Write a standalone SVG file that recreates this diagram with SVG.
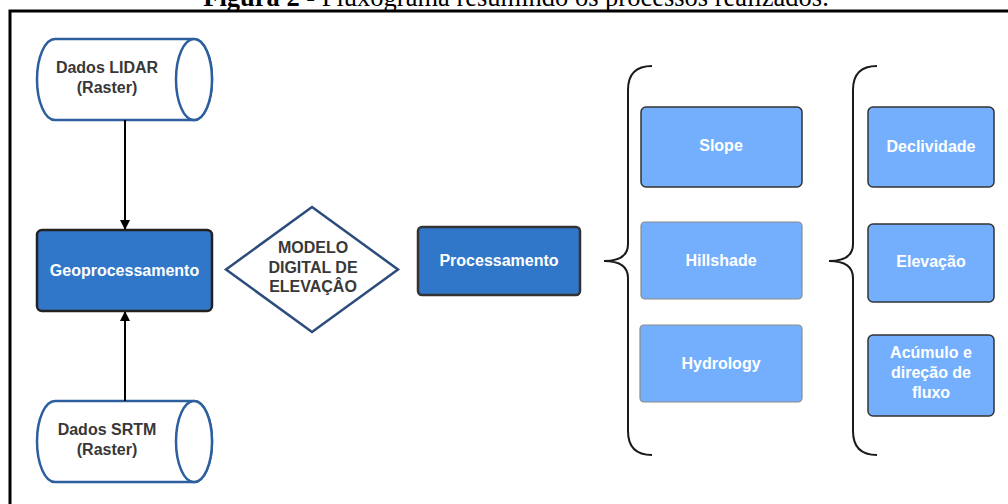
<svg xmlns="http://www.w3.org/2000/svg" width="1008" height="504" viewBox="0 0 1008 504">
<defs>
<style>
.t{font-family:"Liberation Sans",Arial,sans-serif;font-weight:bold;font-size:16px;text-anchor:middle}
.g{fill:#383838}
.w{fill:#ffffff}
.cyl{fill:#ffffff;stroke:#2d5f9e;stroke-width:2.5}
.dark{fill:#3177c9;stroke:#222222;stroke-width:2.5}
.light{fill:#74affe;stroke:#333333;stroke-width:1.5}
.lighter{fill:#74affe;stroke:#8a8a8a;stroke-width:1.2}
.brace{fill:none;stroke:#1a1a1a;stroke-width:2}
.conn{stroke:#000000;stroke-width:2;fill:none}
</style>
<marker id="ah" markerWidth="10" markerHeight="10" refX="9" refY="5" orient="auto" markerUnits="userSpaceOnUse">
<path d="M0,0 L10,5 L0,10 Z" fill="#000000"/>
</marker>
</defs>
<rect width="1008" height="504" fill="#ffffff"/>
<text x="516" y="6" font-family="'Liberation Serif','Times New Roman',serif" font-size="26.5" text-anchor="middle" fill="#000000"><tspan font-weight="bold">Figura 2</tspan> - Fluxograma resumindo os processos realizados.</text>
<path d="M10,520 L10,11 L1020,11" fill="none" stroke="#000000" stroke-width="3"/>

<g id="lidar">
<path class="cyl" d="M55,39 L194,39 A18,40.5 0 0 1 194,120 L55,120 A18,40.5 0 0 1 55,39 Z"/>
<ellipse class="cyl" cx="194" cy="79.5" rx="18" ry="40.5" fill="none"/>
<text class="t g" x="107" y="73">Dados LIDAR</text>
<text class="t g" x="107" y="93">(Raster)</text>
</g>

<g id="srtm">
<path class="cyl" d="M55,401 L194,401 A18,40.5 0 0 1 194,482 L55,482 A18,40.5 0 0 1 55,401 Z"/>
<ellipse class="cyl" cx="194" cy="441.5" rx="18" ry="40.5" fill="none"/>
<text class="t g" x="107" y="435">Dados SRTM</text>
<text class="t g" x="107" y="455">(Raster)</text>
</g>

<g id="geoprocessamento">
<rect class="dark" x="37" y="230" width="175" height="81" rx="5"/>
<text class="t w" x="124.5" y="276">Geoprocessamento</text>
</g>

<g id="mde">
<polygon points="312,207 398,269.5 312,332 226,269.5" fill="#ffffff" stroke="#2b4c7c" stroke-width="2.5"/>
<text class="t g" x="313" y="253">MODELO</text>
<text class="t g" x="313" y="273">DIGITAL DE</text>
<text class="t g" x="313" y="292">ELEVAÇÂO</text>
</g>

<g id="processamento">
<rect class="dark" x="418" y="227" width="162" height="68" rx="4" style="stroke:#333333"/>
<text class="t w" x="499" y="266">Processamento</text>
</g>

<g id="brace1">
<path class="brace" d="M652,66 Q628,66 628,90 L628,244 Q628,261 604,261 Q628,261 628,278 L628,431 Q628,455 652,455"/>
</g>

<g id="slope">
<rect class="light" x="641" y="107" width="161" height="80" rx="5"/>
<text class="t w" x="721" y="151">Slope</text>
</g>
<g id="hillshade">
<rect class="lighter" x="641" y="222" width="161" height="77" rx="4"/>
<text class="t w" x="721" y="266">Hillshade</text>
</g>
<g id="hydrology">
<rect class="lighter" x="640" y="325" width="162" height="77" rx="4"/>
<text class="t w" x="721" y="369">Hydrology</text>
</g>

<g id="brace2">
<path class="brace" d="M877,66 Q853,66 853,90 L853,244 Q853,261 829,261 Q853,261 853,278 L853,431 Q853,455 877,455"/>
</g>

<g id="declividade">
<rect class="light" x="868" y="107" width="126" height="80" rx="5"/>
<text class="t w" x="931" y="152">Declividade</text>
</g>
<g id="elevacao">
<rect class="light" x="868" y="224" width="126" height="78" rx="5"/>
<text class="t w" x="931" y="267">Elevação</text>
</g>
<g id="acumulo">
<rect class="light" x="868" y="335" width="126" height="81" rx="5"/>
<text class="t w" x="931" y="358">Acúmulo e</text>
<text class="t w" x="931" y="378">direção de</text>
<text class="t w" x="931" y="398">fluxo</text>
</g>

<g id="connectors">
<line class="conn" x1="125" y1="120" x2="125" y2="229" marker-end="url(#ah)"/>
<line class="conn" x1="125" y1="401" x2="125" y2="312" marker-end="url(#ah)"/>
</g>
</svg>
